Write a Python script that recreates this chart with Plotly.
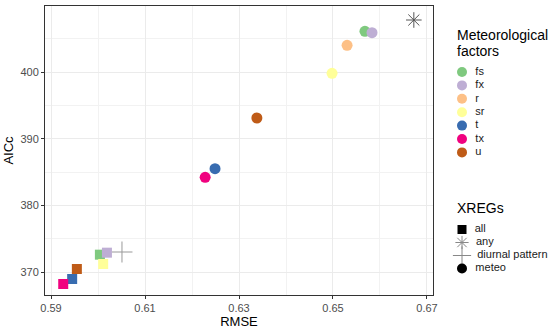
import plotly.graph_objects as go

factors = ["fs", "fx", "r", "sr", "t", "tx", "u"]
colors = ["#7FC97F", "#BEAED4", "#FDC086", "#FFFF99", "#386CB0", "#F0027F", "#BF5B17"]

# XREG = meteo (circles)
meteo_rmse = [0.6568, 0.6583, 0.6530, 0.6498, 0.6249, 0.6228, 0.6338]
meteo_aicc = [406.1, 405.9, 404.0, 399.8, 385.5, 384.2, 393.1]

# XREG = all (squares)
all_factors = ["fs", "fx", "sr", "t", "tx", "u"]
all_rmse = [0.6004, 0.6019, 0.6011, 0.5945, 0.5926, 0.5955]
all_aicc = [372.6, 372.9, 371.2, 368.95, 368.2, 370.45]

any_rmse, any_aicc = [0.6672], [407.8]
diurnal_rmse, diurnal_aicc = [0.6051], [373.0]

xreg_names = ["all", "any", "diurnal pattern", "meteo"]
xreg_symbols = ["square", "asterisk-open", "cross-thin-open", "circle"]

cmap = dict(zip(factors, colors))
fig = go.Figure()
FONT = "Liberation Sans, Arial, sans-serif"

fig.add_trace(go.Scatter(x=any_rmse, y=any_aicc, mode="markers", showlegend=False,
                         marker=dict(symbol="asterisk-open", size=13, color="#555555",
                                     line=dict(width=1, color="#555555"))))
fig.add_trace(go.Scatter(x=diurnal_rmse, y=diurnal_aicc, mode="markers", showlegend=False,
                         marker=dict(symbol="cross-thin-open", size=15, color="#999999",
                                     line=dict(width=1, color="#999999"))))
for f, x, y in zip(all_factors, all_rmse, all_aicc):
    fig.add_trace(go.Scatter(x=[x], y=[y], mode="markers", showlegend=False,
                             marker=dict(symbol="square", size=10, color=cmap[f],
                                         line=dict(width=0))))
for f, x, y in zip(factors, meteo_rmse, meteo_aicc):
    fig.add_trace(go.Scatter(x=[x], y=[y], mode="markers", showlegend=False,
                             marker=dict(symbol="circle", size=11, color=cmap[f],
                                         line=dict(width=0))))

# ---- custom legends drawn on an overlay axis whose units are pixels ----
LX0, LX1 = 439, 550          # x2 range (pixels)
PTOP, PBOT = 6, 295          # y2 range (pixels)
mx, step = 462, 13.4
y0_meteo = 72
y0_xreg = 229.5
xreg_step = 13

for i, f in enumerate(factors):
    fig.add_trace(go.Scatter(x=[mx], y=[y0_meteo + i * step], xaxis="x2", yaxis="y2",
                             mode="markers+text", text=["  " + f], textposition="middle right",
                             textfont=dict(size=11, color="#1A1A1A", family=FONT),
                             showlegend=False, hoverinfo="skip",
                             marker=dict(symbol="circle", size=10, color=cmap[f], line=dict(width=0))))

xreg_marker = {
    "square": dict(size=9, color="black", line=dict(width=0)),
    "asterisk-open": dict(size=11, color="#888888", line=dict(width=1, color="#888888")),
    "cross-thin-open": dict(size=13, color="#888888", line=dict(width=1, color="#888888")),
    "circle": dict(size=10, color="black", line=dict(width=0)),
}
for i, (n, s) in enumerate(zip(xreg_names, xreg_symbols)):
    fig.add_trace(go.Scatter(x=[mx], y=[y0_xreg + i * xreg_step], xaxis="x2", yaxis="y2",
                             mode="markers+text", text=["  " + n], textposition="middle right",
                             textfont=dict(size=11, color="#1A1A1A", family=FONT),
                             showlegend=False, hoverinfo="skip",
                             marker=dict(symbol=s, **xreg_marker[s])))

grid = dict(showline=True, mirror=True, linecolor="#333333", linewidth=1,
            ticks="outside", ticklen=3, tickcolor="#333333",
            tickfont=dict(size=11, color="#4D4D4D"),
            gridcolor="#EBEBEB", gridwidth=1, zeroline=False)

main_right = (433 - 45) / (550 - 45)

title_kw = dict(xref="x2", yref="y2", xanchor="left", yanchor="middle", align="left",
                showarrow=False, font=dict(size=14, color="black"))

fig.update_layout(
    width=550, height=333,
    margin=dict(l=45, r=0, t=PTOP, b=333 - PBOT, autoexpand=False),
    paper_bgcolor="white", plot_bgcolor="rgba(0,0,0,0)",
    font=dict(family=FONT, color="black"),
    showlegend=False,
    xaxis=dict(title=dict(text="RMSE", font=dict(size=13), standoff=3),
               domain=[0, main_right], automargin=False,
               range=[0.58872, 0.67128], tickvals=[0.59, 0.61, 0.63, 0.65, 0.67],
               ticktext=["0.59", "0.61", "0.63", "0.65", "0.67"],
               minor=dict(tickvals=[0.60, 0.62, 0.64, 0.66], showgrid=True,
                          gridcolor="#F2F2F2", ticks=""),
               **grid),
    yaxis=dict(title=dict(text="AICc", font=dict(size=13), standoff=3),
               automargin=False,
               range=[366.55, 409.9], tickvals=[370, 380, 390, 400],
               minor=dict(tickvals=[375, 385, 395, 405], showgrid=True,
                          gridcolor="#F2F2F2", ticks=""),
               **grid),
    xaxis2=dict(domain=[(LX0 - 45) / (550 - 45), 1], range=[LX0, LX1], visible=False,
                anchor="y2", fixedrange=True),
    yaxis2=dict(domain=[0, 1], range=[PBOT, PTOP], visible=False, anchor="x2",
                fixedrange=True),
    annotations=[
        dict(text="Meteorological", x=455, y=35, **title_kw),
        dict(text="factors", x=455, y=51, **title_kw),
        dict(text="XREGs", x=455, y=208, **title_kw),
    ],
)

fig.write_html("out.html", config={"displayModeBar": False},
               post_script="document.body.style.margin='0';document.body.style.overflow='hidden';")
